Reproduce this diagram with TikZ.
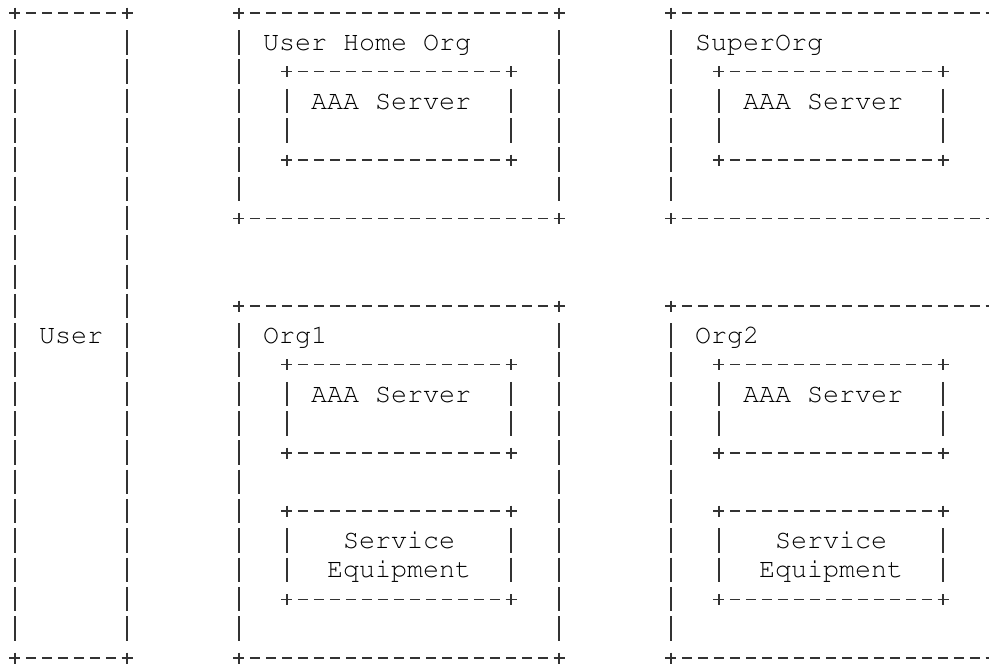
\documentclass[tikz,border=0pt]{standalone}
\usepackage[T1]{fontenc}
\usepackage{courier}
\usetikzlibrary{fit}
\tikzset{
  hdash/.style={line width=1.5pt, draw=black!80, dash pattern=on 10pt off 6pt, dash phase=5pt},
  vdash/.style={line width=1.5pt, draw=black!80, dash pattern=on 24.5pt off 4.8pt},
  plusarm/.style={line width=1.5pt, draw=black!80},
  lbl/.style={inner sep=0pt, anchor=base west, text=black, font=\ttfamily\fontsize{26.67pt}{30pt}\selectfont}
}
\newcommand\asciibox[5]{%
  \pgfmathsetmacro\axa{15+16*#2}%
  \pgfmathsetmacro\axb{15+16*#4}%
  \pgfmathsetmacro\aya{-(13.3+29.3*#3)}%
  \pgfmathsetmacro\ayb{-(13.3+29.3*#5)}%
  \coordinate (#1-nw) at (\axa pt,\aya pt);
  \coordinate (#1-se) at (\axb pt,\ayb pt);
  \node[fit=(#1-nw)(#1-se), inner sep=0pt, draw=none] (#1) {};
  \draw[hdash] (#1.north west) -- (#1.north east);
  \draw[hdash] (#1.south west) -- (#1.south east);
  \draw[vdash] ([yshift=-17.05pt]#1.north west) -- ([yshift=17.05pt]#1.south west);
  \draw[vdash] ([yshift=-17.05pt]#1.north east) -- ([yshift=17.05pt]#1.south east);
  \foreach \cc in {north west, north east, south west, south east}{
    \draw[plusarm] ([yshift=5.5pt]#1.\cc) -- ([yshift=-5.5pt]#1.\cc);
    \draw[plusarm] ([xshift=-5.5pt]#1.\cc) -- ([xshift=5.5pt]#1.\cc);
  }
}
\newcommand\asciitext[4]{%
  \pgfmathsetmacro\atx{7+16*#2}%
  \pgfmathsetmacro\aty{-(13.3+29.3*#3+7.8)}%
  \node[lbl] (#1) at (\atx pt,\aty pt) {#4};
}
\begin{document}
\begin{tikzpicture}
\useasboundingbox (0,0) rectangle (989pt,-664pt);
\clip (0,0) rectangle (989pt,-664pt);
% boxes
\asciibox{user}{0}{0}{7}{22}
\asciibox{home}{14}{0}{34}{7}
\asciibox{homeaaa}{17}{2}{31}{5}
\asciibox{super}{41}{0}{61}{7}
\asciibox{superaaa}{44}{2}{58}{5}
\asciibox{orgone}{14}{10}{34}{22}
\asciibox{orgoneaaa}{17}{12}{31}{15}
\asciibox{orgonese}{17}{17}{31}{20}
\asciibox{orgtwo}{41}{10}{61}{22}
\asciibox{orgtwoaaa}{44}{12}{58}{15}
\asciibox{orgtwose}{44}{17}{58}{20}
% texts
\asciitext{t-user}{2}{11}{User}
\asciitext{t-home}{16}{1}{User Home Org}
\asciitext{t-homeaaa}{19}{3}{AAA Server}
\asciitext{t-super}{43}{1}{SuperOrg}
\asciitext{t-superaaa}{46}{3}{AAA Server}
\asciitext{t-orgone}{16}{11}{Org1}
\asciitext{t-orgoneaaa}{19}{13}{AAA Server}
\asciitext{t-orgonese1}{21}{18}{Service}
\asciitext{t-orgonese2}{20}{19}{Equipment}
\asciitext{t-orgtwo}{43}{11}{Org2}
\asciitext{t-orgtwoaaa}{46}{13}{AAA Server}
\asciitext{t-orgtwose1}{48}{18}{Service}
\asciitext{t-orgtwose2}{47}{19}{Equipment}
\end{tikzpicture}
\end{document}
